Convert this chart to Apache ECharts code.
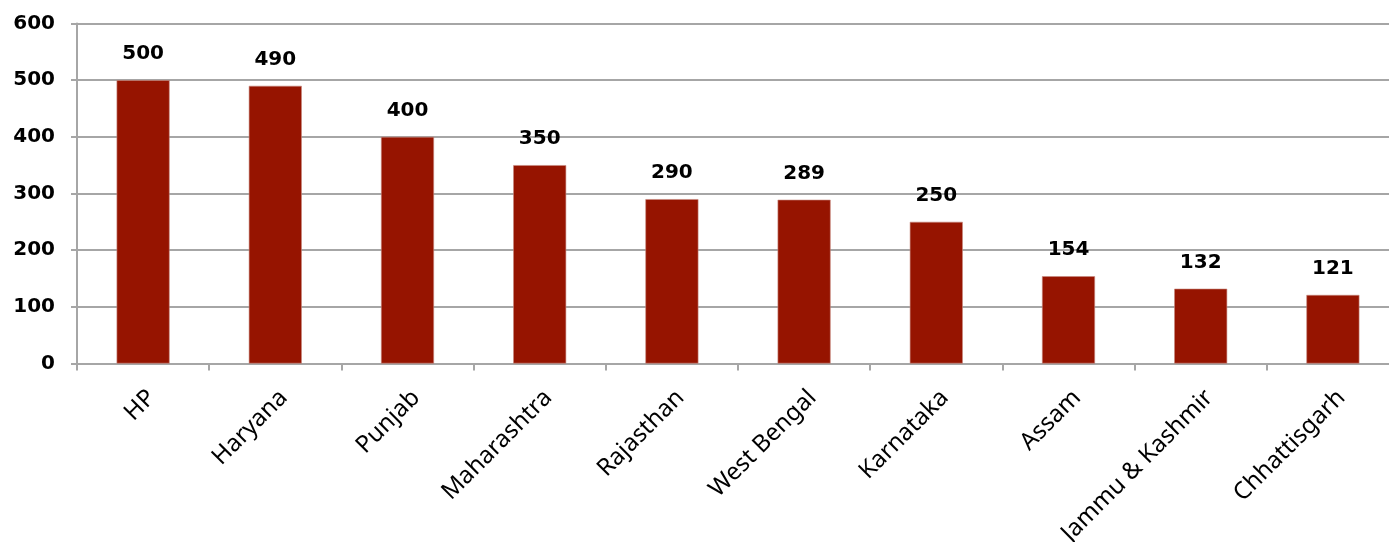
<!DOCTYPE html>
<html>
<head>
<meta charset="utf-8">
<script src="https://cdn.jsdelivr.net/npm/echarts@6/dist/echarts.min.js"></script>
<style>
html,body{margin:0;padding:0;background:#fff;}
#chart{width:1389px;height:542px;}
</style>
</head>
<body>
<div id="chart"></div>
<script>
const categories = ["HP","Haryana","Punjab","Maharashtra","Rajasthan","West Bengal","Karnataka","Assam","Jammu & Kashmir","Chhattisgarh"];
const values = [500,490,400,350,290,289,250,154,132,121];
const yTicks = [0,100,200,300,400,500,600];

const chart = echarts.init(document.getElementById('chart'), null, {renderer:'canvas'});
chart.setOption({
  animation:false,
  grid:{left:77, width:1322, top:23.5, height:340, containLabel:false, outerBoundsMode:'none'},
  xAxis:{
    type:'category',
    data:categories,
    boundaryGap:true,
    axisLine:{lineStyle:{color:'#a6a6a6', width:2}},
    axisTick:{show:true, alignWithLabel:false, length:7, lineStyle:{color:'#a6a6a6', width:2}},
    axisLabel:{rotate:45, interval:0, margin:22, verticalAlign:'top', color:'#000', fontFamily:'Noto Sans', fontSize:24}
  },
  yAxis:{
    type:'value',
    min:yTicks[0], max:yTicks[yTicks.length-1], interval:100,
    axisLine:{show:true, lineStyle:{color:'#a6a6a6', width:2}},
    axisTick:{show:true, length:6, lineStyle:{color:'#a6a6a6', width:2}},
    splitLine:{lineStyle:{color:'#a6a6a6', width:2}},
    axisLabel:{margin:22, color:'#000', fontFamily:'DejaVu Sans', fontWeight:'bold', fontSize:20}
  },
  series:[{
    type:'bar',
    data:values,
    barWidth:53,
    itemStyle:{color:'#961400', borderColor:'#c88a80', borderWidth:0.6},
    label:{show:true, position:'top', distance:16, color:'#000', fontFamily:'DejaVu Sans', fontWeight:'bold', fontSize:20}
  }]
});
</script>
</body>
</html>
